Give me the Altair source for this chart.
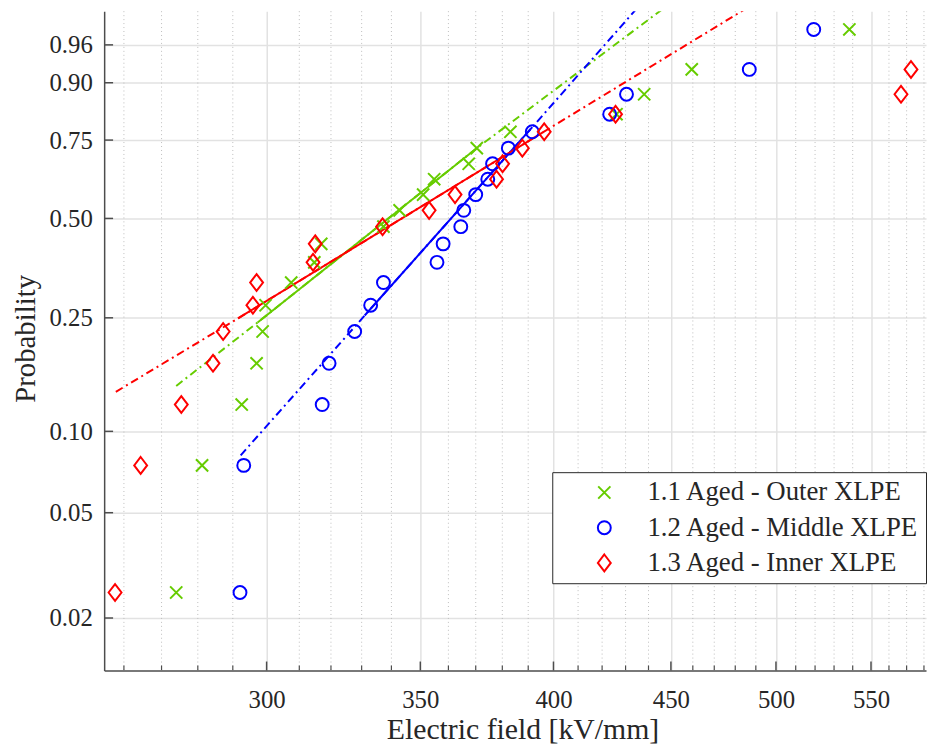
import math
import altair as alt
import pandas as pd

# ---------------- data ----------------
series_names = ["1.1 Aged - Outer XLPE", "1.2 Aged - Middle XLPE", "1.3 Aged - Inner XLPE"]
series_colors = ["#66CC00", "#0000FF", "#FF0000"]

probabilities = [0.025, 0.075, 0.125, 0.175, 0.225, 0.275, 0.325, 0.375, 0.425, 0.475,
                 0.525, 0.575, 0.625, 0.675, 0.725, 0.775, 0.825, 0.875, 0.925, 0.975]

outer_field = [274.0, 281.2, 292.6, 297.0, 298.8, 299.7, 307.5, 314.7, 316.9, 337.3,
               342.8, 351.0, 354.9, 367.4, 370.4, 383.1, 426.1, 438.1, 459.5, 538.2]
middle_field = [292.1, 293.2, 317.2, 319.4, 327.7, 333.0, 337.3, 355.9, 358.1, 364.5,
                365.6, 370.0, 374.5, 376.3, 382.3, 391.6, 423.2, 430.4, 486.8, 519.3]
inner_field = [257.7, 264.4, 275.4, 284.3, 287.2, 295.9, 297.0, 314.3, 315.0, 337.0,
               353.1, 362.4, 377.8, 380.1, 387.7, 396.3, 425.7, 566.8, 572.5]

# Weibull fit lines: [dash start, solid start, solid end, dash end]
outer_fit_field = [274.0, 297.3, 370.0, 445.6]
outer_fit_prob = [0.1457, 0.2412, 0.7224, 0.9874]
middle_fit_field = [292.3, 331.0, 391.6, 434.6]
middle_fit_prob = [0.0817, 0.2544, 0.7886, 0.9879]
inner_fit_field = [257.9, 291.5, 395.9, 483.9]
inner_fit_prob = [0.1388, 0.2488, 0.7740, 0.9874]

x_major_ticks = [300, 350, 400, 450, 500, 550]
x_minor_ticks = [260, 270, 280, 290, 310, 320, 330, 340, 360, 370, 380, 390,
                 410, 420, 430, 440, 460, 470, 480, 490, 510, 520, 530, 540, 560, 570, 580]
y_tick_probs = [0.02, 0.05, 0.10, 0.25, 0.50, 0.75, 0.90, 0.96]

# ---------------- tables ----------------
pts = []
for name, fields in zip(series_names, [outer_field, middle_field, inner_field]):
    for f, p in zip(fields, probabilities):
        pts.append({"series": name, "field": f, "p": p})
df_pts = pd.DataFrame(pts)

fits = []
for name, ff, fp in zip(series_names,
                        [outer_fit_field, middle_fit_field, inner_fit_field],
                        [outer_fit_prob, middle_fit_prob, inner_fit_prob]):
    for i, (f, p) in enumerate(zip(ff, fp)):
        fits.append({"series": name, "field": f, "p": p, "idx": i})
df_fit = pd.DataFrame(fits)

y_tick_vals = [math.log(-math.log(1 - p)) for p in y_tick_probs]
df_major = pd.DataFrame({"v": x_major_ticks})
df_minor = pd.DataFrame({"v": x_minor_ticks})
df_ytick = pd.DataFrame({"ty": y_tick_vals})

# ---------------- styling ----------------
FONT = "Liberation Serif"
TXT = "#262626"
AX = "#4d4d4d"
W, H = 829, 665
MSIZE = 196

xscale = alt.Scale(type="log", domain=[254.9, 581.2], nice=False)
yscale = alt.Scale(domain=[-4.366, 1.467], nice=False, zero=False)

xaxis = alt.Axis(values=x_major_ticks, format="d", ticks=False, grid=True,
                 gridColor="#e2e2e2", gridWidth=1.5, domainColor=AX, domainWidth=1.5,
                 labelFont=FONT, labelFontSize=25, labelColor=TXT, labelPadding=17,
                 labelOverlap=False, labelFlush=False,
                 title="Electric field [kV/mm]", titleFont=FONT, titleFontSize=30,
                 titleFontWeight="normal", titleColor=TXT, titleX=422, titleY=60,
                 titleBaseline="middle", titleAlign="center")
yaxis = alt.Axis(values=y_tick_vals, labelExpr="format(1-exp(-exp(datum.value)), '.2f')",
                 ticks=False, grid=True, gridColor="#e2e2e2", gridWidth=1.5,
                 domainColor=AX, domainWidth=1.5,
                 labelFont=FONT, labelFontSize=25, labelColor=TXT, labelPadding=12,
                 labelOverlap=False, labelFlush=False,
                 title="Probability", titleFont=FONT, titleFontSize=29,
                 titleFontWeight="normal", titleColor=TXT, titleX=-79, titleY=330,
                 titleAngle=-90, titleBaseline="middle", titleAlign="center")

color_scale = alt.Scale(domain=series_names, range=series_colors)
shape_scale = alt.Scale(domain=series_names,
                        range=["M-0.88,-0.88L0.88,0.88M-0.88,0.88L0.88,-0.88",
                               "M-0.93,0A0.93,0.93 0 1,0 0.93,0A0.93,0.93 0 1,0 -0.93,0Z",
                               "M0,-1.21L0.93,0L0,1.21L-0.93,0Z"])

legend = alt.Legend(title=None, orient="none", legendX=452, legendY=465,
                    fillColor="white", strokeColor=TXT, padding=7, rowPadding=7.5,
                    labelFont=FONT, labelFontSize=27, labelColor=TXT, labelLimit=400,
                    symbolStrokeWidth=2, symbolSize=MSIZE, symbolOffset=32, labelOffset=30,
                    cornerRadius=0)

Xf = alt.X("field:Q", scale=xscale, axis=xaxis)
Yf = alt.Y("y:Q", scale=yscale, axis=yaxis)

minor_grid = alt.Chart(df_minor).mark_rule(color="#bdbdbd", strokeWidth=1, strokeDash=[1, 3]).encode(
    x=alt.X("v:Q", scale=xscale, axis=xaxis))

minor_ticks = alt.Chart(df_minor).mark_rule(color=AX, strokeWidth=1.2).encode(
    x=alt.X("v:Q", scale=xscale, axis=xaxis), y=alt.value(H), y2=alt.value(H - 5))
major_ticks = alt.Chart(df_major).mark_rule(color=AX, strokeWidth=1.5).encode(
    x=alt.X("v:Q", scale=xscale, axis=xaxis), y=alt.value(H), y2=alt.value(H - 9))
y_ticks = alt.Chart(df_ytick).mark_rule(color=AX, strokeWidth=1.5).encode(
    y=alt.Y("ty:Q", scale=yscale, axis=yaxis), x=alt.value(0), x2=alt.value(9))

line_layers = []
for name, col in zip(series_names, series_colors):
    base = alt.Chart(df_fit).transform_filter(
        alt.datum.series == name).transform_calculate(y="log(-log(1-datum.p))")
    dash = base.mark_line(color=col, strokeWidth=2, strokeDash=[8, 4, 2, 4], clip=True).encode(
        x=Xf, y=Yf, order="idx:Q")
    solid = base.transform_filter(
        (alt.datum.idx >= 1) & (alt.datum.idx <= 2)).mark_line(color=col, strokeWidth=2, clip=True).encode(
        x=Xf, y=Yf, order="idx:Q")
    line_layers += [dash, solid]

points = alt.Chart(df_pts).transform_calculate(
    y="log(-log(1-datum.p))").mark_point(filled=False, strokeWidth=2, opacity=1, size=MSIZE, clip=True).encode(
    x=Xf, y=Yf,
    color=alt.Color("series:N", scale=color_scale, legend=legend),
    shape=alt.Shape("series:N", scale=shape_scale, legend=legend))

chart = alt.layer(minor_grid, minor_ticks, major_ticks, y_ticks, *line_layers, points).properties(
    width=W, height=H,
    autosize=alt.AutoSizeParams(type="none"),
    padding={"left": 97, "top": 0, "right": 2, "bottom": 75},
    background="white",
).configure_view(stroke=None)

chart.save("out.html", embed_options={"renderer": "svg", "actions": False})
